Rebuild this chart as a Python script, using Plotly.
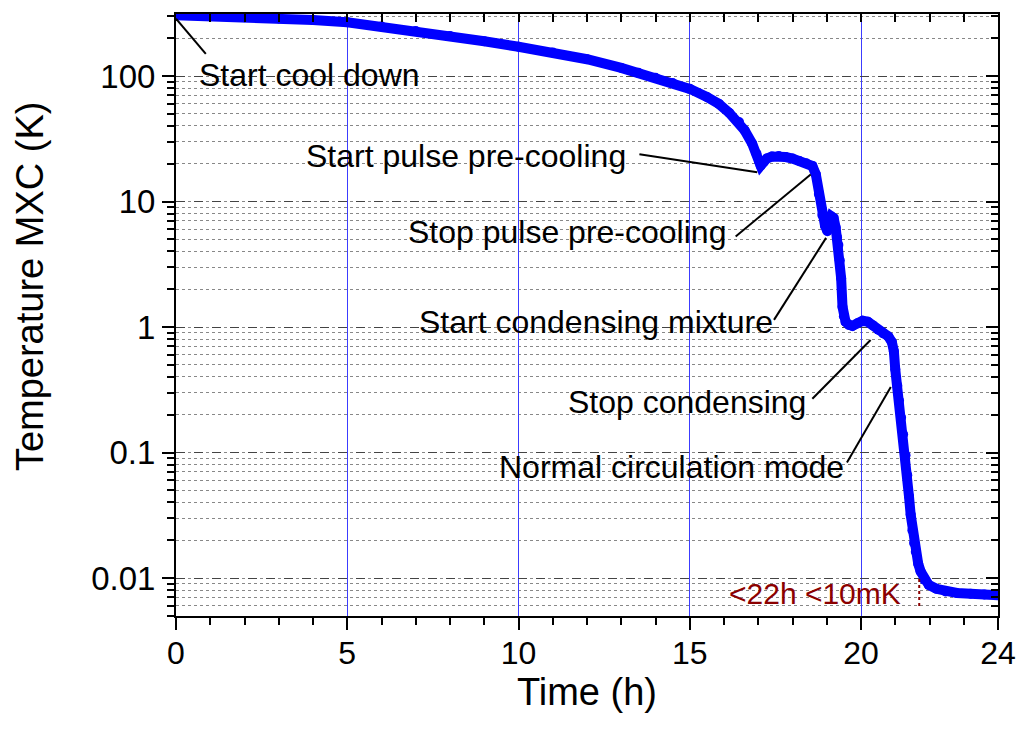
import math
import plotly.graph_objects as go

# ---- data ----
time_h = [0, 1, 2, 3, 4, 5, 6, 7, 8, 9, 10, 11, 12, 13, 13.5, 14, 14.5, 15, 15.5,
          15.85, 16.15, 16.44, 16.6, 16.82, 16.95, 17.02, 17.07, 17.15, 17.25, 17.4,
          17.6, 17.8, 18.0, 18.2, 18.4, 18.58, 18.68, 18.77, 18.87, 18.95, 19.02,
          19.08, 19.14, 19.2, 19.26, 19.3, 19.34, 19.38, 19.42, 19.46, 19.5, 19.55,
          19.65, 19.75, 19.9, 20.05, 20.2, 20.35, 20.5, 20.65, 20.8, 20.9, 20.96,
          21.0, 21.06, 21.11, 21.17, 21.23, 21.3, 21.35, 21.4, 21.45, 21.5, 21.55,
          21.6, 21.67, 21.74, 21.85, 21.98, 22.2, 22.47, 22.8, 23.2, 23.6, 24.0]
temp_K = [305, 300, 294, 287, 279, 268, 248, 228, 208, 189, 171, 154, 136, 116, 106,
          97, 88, 79, 68, 60, 51, 43, 37, 29, 24, 21, 19.3, 20.5, 22, 22.8, 23, 22.6,
          22, 21, 20.2, 19.2, 16.5, 11.5, 7.8, 6.4, 5.8, 6.3, 7.6, 7.4, 6.2, 5.2, 4.5,
          3.4, 2.45, 1.45, 1.22, 1.1, 1.04, 1.02, 1.07, 1.12, 1.1, 1.03, 0.95, 0.89,
          0.84, 0.76, 0.64, 0.46, 0.34, 0.26, 0.19, 0.14, 0.095, 0.066, 0.045, 0.032,
          0.024, 0.019, 0.0162, 0.013, 0.0113, 0.0097, 0.0088, 0.0082, 0.0078,
          0.0076, 0.0075, 0.0074, 0.0073]

x_tickvals = [0, 5, 10, 15, 20, 24]
y_tickvals = [0.01, 0.1, 1, 10, 100]
y_ticktext = ["0.01", "0.1", "1", "10", "100"]

# annotations: text, text centre (h, K), pointer line start/end (h, K)
notes = [
    ("Start cool down", (3.90, 102.8), (0.87, 150), (0.0, 286)),
    ("Start pulse pre-cooling", (8.48, 22.9), (13.53, 23.8), (16.97, 17.1)),
    ("Stop pulse pre-cooling", (11.43, 5.75), (16.34, 5.27), (18.53, 16.4)),
    ("Start condensing mixture", (12.25, 1.10), (17.46, 1.14), (18.98, 5.13)),
    ("Stop condensing", (14.93, 0.251), (18.58, 0.268), (20.28, 0.787)),
    ("Normal circulation mode", (14.47, 0.0773), (19.59, 0.0832), (20.87, 0.333)),
]
red_note = ("<22h <10mK", (18.67, 0.00759))
red_marker_t = [21.7, 21.7]
red_marker_T = [0.0098, 0.0057]

FONT = "Liberation Sans, Arial, sans-serif"
y_range = [math.log10(0.00498), math.log10(312)]
x_range = [0, 24]

fig = go.Figure()

fig.add_trace(go.Scatter(
    x=time_h, y=temp_K, mode="lines+markers",
    line=dict(color="#0000ff", width=10),
    marker=dict(color="#0000ff", size=10),
    showlegend=False, hoverinfo="x+y"))

for text, (tx, ty), (x0, y0), (x1, y1) in notes:
    fig.add_trace(go.Scatter(x=[x0, x1], y=[y0, y1], mode="lines",
                             line=dict(color="black", width=2),
                             showlegend=False, hoverinfo="skip"))
    fig.add_annotation(x=tx, y=math.log10(ty), xref="x", yref="y", text=text,
                       showarrow=False, font=dict(family=FONT, size=32, color="black"))

fig.add_trace(go.Scatter(x=red_marker_t, y=red_marker_T, mode="lines",
                         line=dict(color="#8b0000", width=2, dash="dot"),
                         showlegend=False, hoverinfo="skip"))
fig.add_annotation(x=red_note[1][0], y=math.log10(red_note[1][1]), xref="x", yref="y",
                   text=red_note[0], showarrow=False,
                   font=dict(family=FONT, size=30, color="#8b0000"))

# y-axis title (placed like the reference, slightly above the axis centre)
fig.add_annotation(text="Temperature MXC (K)", textangle=-90, showarrow=False,
                   xref="paper", yref="paper", x=0, y=0.548, xshift=-146,
                   xanchor="center", yanchor="middle",
                   font=dict(family=FONT, size=38, color="black"))

# invisible trace to anchor the mirrored (top/right) axes
fig.add_trace(go.Scatter(x=time_h, y=temp_K, xaxis="x2", yaxis="y2", mode="lines",
                         opacity=0, showlegend=False, hoverinfo="skip"))

fig.update_layout(
    width=1018, height=733,
    margin=dict(l=176, r=20, t=14, b=117),
    paper_bgcolor="white", plot_bgcolor="white",
    font=dict(family=FONT, color="black"),
    xaxis=dict(
        range=x_range, tickmode="array", tickvals=x_tickvals, automargin=False,
        ticks="outside", ticklen=12, tickwidth=2, tickcolor="black",
        showline=True, linecolor="black", linewidth=2,
        showgrid=True, gridcolor="#3c3cff", gridwidth=1,
        zeroline=False, tickfont=dict(size=32), ticklabelstandoff=-4,
        title=dict(text="Time (h)", font=dict(size=38), standoff=0),
        minor=dict(tickmode="linear", tick0=0, dtick=1, ticks="outside",
                   ticklen=7, tickwidth=2, tickcolor="black", showgrid=False),
    ),
    xaxis2=dict(
        range=x_range, overlaying="x", side="top", showticklabels=False,
        tickmode="linear", tick0=0, dtick=1, ticks="inside", ticklen=8,
        tickwidth=2, tickcolor="black", showline=True, linecolor="black",
        linewidth=2, showgrid=False, zeroline=False, automargin=False,
    ),
    yaxis=dict(
        type="log", range=y_range, tickmode="array", tickvals=y_tickvals,
        ticktext=y_ticktext, ticks="outside", ticklen=12, tickwidth=2,
        tickcolor="black", showline=True, linecolor="black", linewidth=2,
        showgrid=True, gridcolor="#444444", gridwidth=1, griddash="dash",
        zeroline=False, tickfont=dict(size=33), automargin=False,
        minor=dict(dtick="D1", ticks="outside", ticklen=7, tickwidth=2,
                   tickcolor="black", showgrid=True, gridcolor="#888888",
                   gridwidth=1, griddash="dot"),
    ),
    yaxis2=dict(
        type="log", range=y_range, overlaying="y", side="right",
        showticklabels=False, tickmode="array", tickvals=y_tickvals,
        ticks="inside", ticklen=12, tickwidth=2, tickcolor="black",
        showline=True, linecolor="black", linewidth=2, showgrid=False,
        zeroline=False, automargin=False,
        minor=dict(dtick="D1", ticks="inside", ticklen=7, tickwidth=2,
                   tickcolor="black", showgrid=False),
    ),
)

fig.write_html("out.html", config={"displayModeBar": False},
               post_script="document.body.style.margin='0px';")
